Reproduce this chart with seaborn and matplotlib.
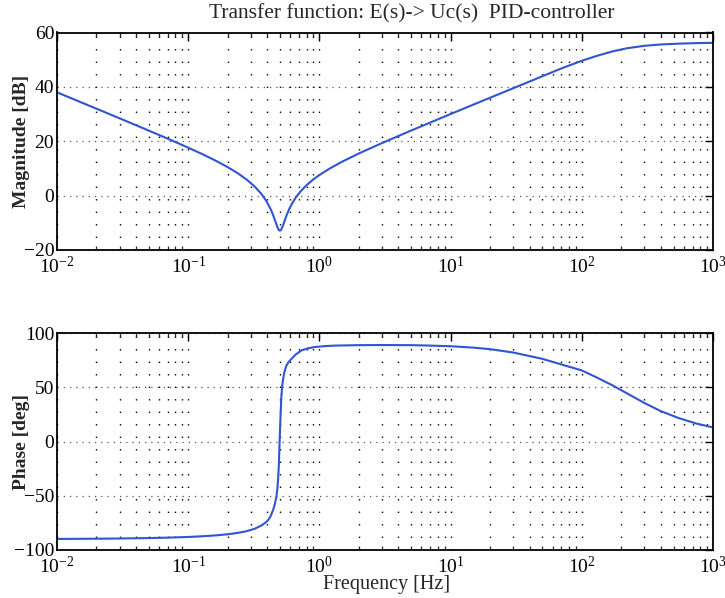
import matplotlib
matplotlib.use("Agg")
import matplotlib.pyplot as plt
import matplotlib.ticker as mticker
import seaborn as sns
import pandas as pd

# ---- data ----
mag_freq = [0.01, 0.015, 0.02, 0.03, 0.05, 0.07, 0.1, 0.13, 0.16, 0.2, 0.24, 0.28,
            0.32, 0.36, 0.39, 0.42, 0.44, 0.46, 0.475, 0.49, 0.5, 0.51, 0.525, 0.54,
            0.56, 0.59, 0.62, 0.66, 0.72, 0.8, 0.9, 1.0, 1.2, 1.5, 2, 3, 5, 7, 10,
            15, 20, 30, 50, 70, 100, 130, 170, 220, 300, 400, 550, 750, 1000]
mag_db = [38.0, 34.47, 31.97, 28.43, 23.93, 20.93, 17.65, 15.12, 12.99, 10.48, 8.16,
          5.85, 3.42, 0.71, -1.64, -4.44, -6.67, -9.22, -11.15, -12.6, -12.9, -12.6,
          -11.3, -9.61, -7.46, -4.83, -2.81, -0.72, 1.62, 3.89, 5.98, 7.58, 9.99,
          12.55, 15.51, 19.34, 23.93, 26.89, 30.01, 33.53, 36.01, 39.49, 43.9, 46.8,
          49.6, 51.4, 53.0, 54.2, 55.1, 55.6, 55.9, 56.1, 56.2]

phase_freq = [0.01, 0.02, 0.03, 0.05, 0.07, 0.1, 0.13, 0.16, 0.2, 0.24, 0.28, 0.32,
              0.36, 0.39, 0.408, 0.425, 0.444, 0.458, 0.47, 0.478, 0.484, 0.49,
              0.498, 0.505, 0.513, 0.52, 0.528, 0.54, 0.558, 0.58, 0.612, 0.66,
              0.731, 0.82, 0.925, 1.1, 1.31, 2, 3, 5, 7, 10, 15, 20, 30, 50, 70,
              100, 130, 170, 220, 300, 400, 550, 750, 1000]
phase_deg = [-89.8, -89.6, -89.4, -89.0, -88.6, -88.0, -87.3, -86.6, -85.5, -84.2,
             -82.6, -80.5, -77.5, -74.6, -72.3, -68.8, -63.1, -57.5, -50.8, -44.0,
             -35.4, -24.0, 1.6, 22.0, 41.5, 50.5, 57.0, 63.5, 69.3, 73.0, 76.1, 80.2,
             84.0, 85.9, 87.1, 87.9, 88.4, 88.8, 88.9, 88.8, 88.4, 87.8, 86.5, 85.1,
             82.0, 76.2, 71.0, 65.5, 59.0, 52.0, 44.5, 35.5, 28.0, 21.5, 16.5, 13.0]

mag_ticks = [-20, 0, 20, 40, 60]
phase_ticks = [-100, -50, 0, 50, 100]
title_text = "Transfer function: E(s)-> Uc(s)  PID-controller"

mag_df = pd.DataFrame({"f": mag_freq, "v": mag_db})
ph_df = pd.DataFrame({"f": phase_freq, "v": phase_deg})

sns.set_theme(style="white")
plt.rcParams["font.family"] = ["Liberation Serif", "DejaVu Serif"]
plt.rcParams["mathtext.fontset"] = "custom"
plt.rcParams["mathtext.rm"] = "Liberation Serif"
plt.rcParams["mathtext.it"] = "Liberation Serif:italic"
plt.rcParams["mathtext.bf"] = "Liberation Serif:bold"

fig = plt.figure(figsize=(7.25, 5.98), dpi=100)
ax1 = fig.add_axes([57 / 725, 1 - 250 / 598, 656 / 725, 217.5 / 598])
ax2 = fig.add_axes([57 / 725, 1 - 550 / 598, 656 / 725, 217 / 598])

line_color = "#2f55d4"
sns.lineplot(data=mag_df, x="f", y="v", ax=ax1, color=line_color, linewidth=1.5, sort=False)
sns.lineplot(data=ph_df, x="f", y="v", ax=ax2, color=line_color, linewidth=1.5, sort=False)

for ax, ticks, lab in [(ax1, mag_ticks, "Magnitude [dB]"), (ax2, phase_ticks, "Phase [deg]")]:
    ax.set_xscale("log")
    ax.set_xlim(1e-2, 1e3)
    ax.set_ylim(ticks[0], ticks[-1])
    ax.set_yticks(ticks)
    ax.xaxis.set_major_locator(mticker.LogLocator(base=10, numticks=10))
    ax.xaxis.set_minor_locator(mticker.LogLocator(base=10, subs=range(2, 10), numticks=20))
    ax.xaxis.set_minor_formatter(mticker.NullFormatter())
    ax.tick_params(axis="both", which="major", direction="in", length=6, width=1.0,
                   top=True, right=True, labelsize=14, colors="black")
    ax.tick_params(axis="y", which="major", pad=2)
    ax.tick_params(axis="x", which="major", pad=4)
    ax.tick_params(axis="x", which="minor", direction="in", length=3, width=0.9,
                   top=True, bottom=True)
    ax.grid(True, which="major", axis="x", color="black", linestyle=(0, (1, 8)), linewidth=1.0)
    ax.grid(True, which="minor", axis="x", color="black", linestyle=(0, (1, 8)), linewidth=1.0)
    ax.grid(True, which="major", axis="y", color="#555555", linestyle=(0, (1, 4)), linewidth=0.9)
    for s in ax.spines.values():
        s.set_visible(True)
        s.set_color("black")
        s.set_linewidth(1.3)
    ax.set_ylabel(lab, fontsize=14, fontweight="bold", va="center")
    ax.yaxis.set_label_coords((22 - 57) / 656, 0.5)
    ax.set_xlabel("")

ax2.set_xlabel("Frequency [Hz]", fontsize=14.5, va="center")
ax2.xaxis.set_label_coords((387 - 57) / 656, -(585 - 550) / 217)
fig.text(412 / 725, 1 - 14 / 598, title_text, ha="center", va="center", fontsize=15.5)

fig.savefig("out.png", dpi=100)
